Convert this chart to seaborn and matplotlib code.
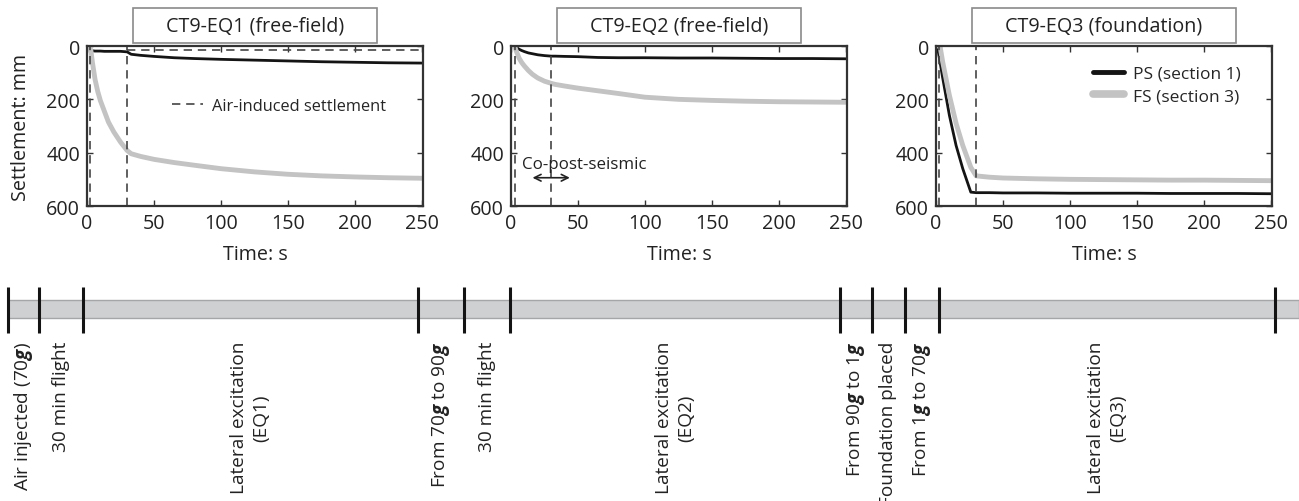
import numpy as np
import seaborn as sns
import matplotlib.pyplot as plt
from matplotlib.lines import Line2D
from matplotlib.patches import Rectangle

# settlement (time: s, settlement: mm)
eq1_time = [0, 2, 3, 4, 6, 8, 10, 13, 16, 20, 25, 30, 33, 40, 50, 65, 80, 100, 125, 150, 175, 200, 225, 250]
eq1_ps = [0, 5, 15, 18, 19, 19, 19, 20, 20, 20, 20, 22, 31, 35, 39, 44, 47, 50, 53, 56, 59, 61, 63, 64]
eq1_fs = [0, 0, 20, 60, 125, 170, 205, 245, 285, 322, 360, 392, 404, 414, 425, 437, 447, 460, 472, 481, 487, 491, 494, 496]

eq2_time = [0, 2, 3, 4, 6, 8, 10, 13, 16, 20, 25, 30, 33, 40, 50, 65, 80, 100, 125, 150, 175, 200, 225, 250]
eq2_ps = [0, 0, 2, 5, 12, 17, 21, 26, 29, 33, 36, 38, 38, 39, 40, 43, 44, 44, 45, 45, 46, 47, 47, 48]
eq2_fs = [0, 0, 5, 20, 45, 62, 75, 92, 106, 120, 132, 140, 144, 150, 158, 168, 178, 192, 200, 204, 207, 209, 210, 211]

eq3_time = [0, 1, 3, 5, 10, 15, 20, 26, 30, 40, 50, 75, 100, 125, 150, 175, 200, 225, 250]
eq3_ps = [0, 0, 60, 120, 260, 373, 460, 548, 550, 550, 551, 551, 552, 552, 552, 553, 553, 553, 554]
eq3_fs = [0, 0, 0, 60, 185, 290, 373, 455, 487, 492, 495, 498, 500, 501, 502, 503, 503, 504, 505]

panel_titles = ["CT9-EQ1 (free-field)", "CT9-EQ2 (free-field)", "CT9-EQ3 (foundation)"]
event_times = [[2.5, 30], [3, 30], [2.5, 30]]
air_settlement = 16

# test sequence (schematic positions along the bar)
stage_edges = [8, 39, 83, 418, 464, 510, 840, 872, 905, 939, 1275]
stage_labels = [
    r"Air injected (70$\mathbfit{g}$)",
    "30 min flight",
    "Lateral excitation\n(EQ1)",
    r"From 70$\mathbfit{g}$ to 90$\mathbfit{g}$",
    "30 min flight",
    "Lateral excitation\n(EQ2)",
    r"From 90$\mathbfit{g}$ to 1$\mathbfit{g}$",
    "Foundation placed",
    r"From 1$\mathbfit{g}$ to 70$\mathbfit{g}$",
    "Lateral excitation\n(EQ3)",
]

BLACK = "#141414"
GREY = "#c3c3c3"
DASH = (0, (5, 3.5))
FS = 14.2

sns.set_theme(style="ticks")
plt.rcParams["font.family"] = ["Open Sans", "DejaVu Sans"]
plt.rcParams["mathtext.fontset"] = "custom"
plt.rcParams["mathtext.bfit"] = "Open Sans:italic:bold"
plt.rcParams["axes.edgecolor"] = "#333333"

W, H = 1299, 502
fig = plt.figure(figsize=(W / 100, H / 100), dpi=100)

lefts = [87, 511, 936]
axes = [fig.add_axes([l / W, 1 - 207 / H, 336 / W, 160 / H]) for l in lefts]
series = [(eq1_time, eq1_ps, eq1_fs), (eq2_time, eq2_ps, eq2_fs), (eq3_time, eq3_ps, eq3_fs)]

title_texts = []
for i, (ax, (t, ps, fs)) in enumerate(zip(axes, series)):
    sns.lineplot(x=t, y=ps, ax=ax, color=BLACK, lw=2, legend=False)
    sns.lineplot(x=t, y=fs, ax=ax, color=GREY, lw=3.5, legend=False)
    for ev in event_times[i]:
        ax.axvline(ev, color="#444444", ls=DASH, lw=1.2)
    ax.set_xlim(0, 251)
    ax.set_ylim(600, 0)
    ax.set_xticks([0, 50, 100, 150, 200, 250])
    ax.set_yticks([0, 200, 400, 600])
    ax.tick_params(direction="in", top=True, right=True, length=4, width=1,
                   labelsize=FS, pad=5, colors="#333333", labelcolor="#222222")
    for sp in ax.spines.values():
        sp.set_linewidth(1.6)
    ax.set_xlabel("Time: s", fontsize=FS, labelpad=8, color="#222222")
    ax.set_ylabel("Settlement: mm" if i == 0 else "", fontsize=FS, color="#222222", labelpad=11)
    title_texts.append(ax.text(0.5, 1.128, panel_titles[i], transform=ax.transAxes,
                               ha="center", va="center", fontsize=FS, color="#222222", zorder=6))

# air-induced settlement level in EQ1
axes[0].hlines(air_settlement, event_times[0][1], 251, color="#444444", ls=DASH, lw=1.2)
axes[0].legend(handles=[Line2D([], [], color="#444444", ls=DASH, lw=1.2)],
               labels=["Air-induced settlement"], loc="center left",
               bbox_to_anchor=(0.21, 0.625), frameon=False, handlelength=1.9,
               handletextpad=0.5, fontsize=11.8)

axes[1].text(8.4, 444, "Co-post-seismic", ha="left", va="center", fontsize=12.2, color="#222222")
axes[1].annotate("", xy=(14, 494), xytext=(46, 494),
                 arrowprops=dict(arrowstyle="<->", color="#222222", lw=1.2))

axes[2].legend(handles=[Line2D([], [], color=BLACK, lw=3.5), Line2D([], [], color=GREY, lw=5.5)],
               labels=["PS (section 1)", "FS (section 3)"], loc="upper left",
               bbox_to_anchor=(0.42, 0.975), frameon=False, handlelength=1.8,
               handletextpad=0.5, labelspacing=0.35, fontsize=12.5)

# boxes round the panel titles
fig.canvas.draw()
r = fig.canvas.get_renderer()
for ax, txt in zip(axes, title_texts):
    bb = txt.get_window_extent(r)
    inv = ax.transAxes.inverted()
    x0 = inv.transform((bb.x0 - 33, 0))[0]
    x1 = inv.transform((bb.x1 + 33, 0))[0]
    ax.add_patch(Rectangle((x0, 1.019), x1 - x0, 0.2185, transform=ax.transAxes,
                           facecolor="white", edgecolor="#8a8a8a", lw=1.2,
                           clip_on=False, zorder=5))

# test sequence bar
ax_t = fig.add_axes([0, 0, 1, 222 / H])
ax_t.set_xlim(0, W)
ax_t.set_ylim(222, 0)
ax_t.axis("off")
ax_t.add_patch(Rectangle((stage_edges[0], 21), W - stage_edges[0], 18,
                         facecolor="#cfd0d2", edgecolor="#a5a6a8", lw=1))
ax_t.vlines(stage_edges, 8, 54, color=BLACK, lw=2.2)
mids = (np.array(stage_edges[:-1]) + np.array(stage_edges[1:])) / 2
for m, lab in zip(mids, stage_labels):
    ax_t.text(m, 62, lab, rotation=90, ha="center", va="top", fontsize=13.7,
              linespacing=1.3, multialignment="center", color="#222222")

fig.savefig("out.png", dpi=100)
